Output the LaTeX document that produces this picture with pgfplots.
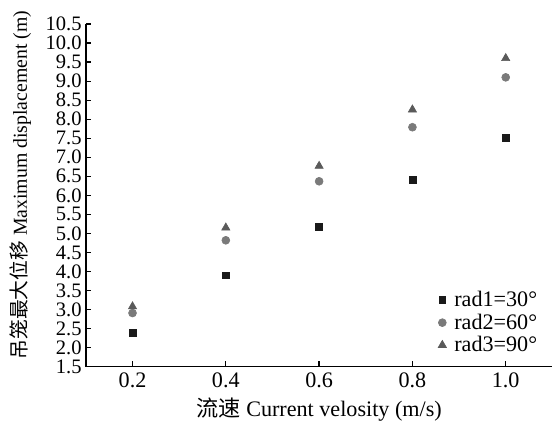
\documentclass[border=0pt]{standalone}
\usepackage{fontspec}
\setmainfont{Liberation Serif}
\newfontfamily\cjk{Noto Sans CJK SC}
\usepackage{pgfplots}
\pgfplotsset{compat=1.18}
\definecolor{cRadA}{HTML}{1A1A1A}
\definecolor{cRadB}{HTML}{7A7A7A}
\definecolor{cRadC}{HTML}{5A5A5A}

\begin{document}
\begin{tikzpicture}
\begin{axis}[
    scale only axis,
    width=295pt, height=216.7pt,
    xmin=0.1, xmax=1.1, ymin=1.5, ymax=10.5,
    axis x line*=bottom, axis y line*=left,
    axis line style={-, black, line width=0.8pt},
    tick align=inside, tick style={black, line width=0.8pt},
    major tick length=3.5pt,
    xtick={0.2,0.4,0.6,0.8,1.0},
    ytick={1.5,2,...,10.5},
    /pgf/number format/assume math mode=true,
    xticklabel style={font=\fontsize{14}{15}\selectfont,
        /pgf/number format/.cd, fixed, fixed zerofill, precision=1},
    yticklabel style={font=\fontsize{13}{13}\selectfont, inner ysep=0pt, inner xsep=2.5pt,
        /pgf/number format/.cd, fixed, fixed zerofill, precision=1},
    xlabel={{\cjk 流速} Current velosity (m/s)},
    ylabel={{\cjk 吊笼最大位移} Maximum displacement (m)},
    xlabel style={font=\fontsize{14}{16}\selectfont,
        at={(axis description cs:0.5,-0.125)}, anchor=center},
    ylabel style={font=\fontsize{12.5}{14}\selectfont,
        at={(axis description cs:-0.14,0.53)}, anchor=center},
    legend style={draw=none, fill=none, font=\fontsize{14}{14}\selectfont,
        at={(0.985,0.02)}, anchor=south east,
        nodes={inner ysep=1.5pt}},
    legend cell align=left,
]
\addplot[only marks, mark=square*, color=cRadA, mark size=2.2pt]
    coordinates {(0.2,2.38) (0.4,3.90) (0.6,5.17) (0.8,6.40) (1.0,7.50)};
\addlegendentry{\hspace{3pt}rad1=30°}
\addplot[only marks, mark=*, color=cRadB, mark size=2.5pt]
    coordinates {(0.2,2.91) (0.4,4.82) (0.6,6.37) (0.8,7.79) (1.0,9.10)};
\addlegendentry{\hspace{3pt}rad2=60°}
\addplot[only marks, mark=triangle*, color=cRadC, mark size=3pt]
    coordinates {(0.2,3.08) (0.4,5.15) (0.6,6.77) (0.8,8.25) (1.0,9.60)};
\addlegendentry{\hspace{3pt}rad3=90°}
\end{axis}
\path[use as bounding box] ([shift={(-54.3pt,-39.8pt)}]current axis.south west)
    rectangle ([shift={(0pt,15.2pt)}]current axis.north east);
\end{tikzpicture}
\end{document}
